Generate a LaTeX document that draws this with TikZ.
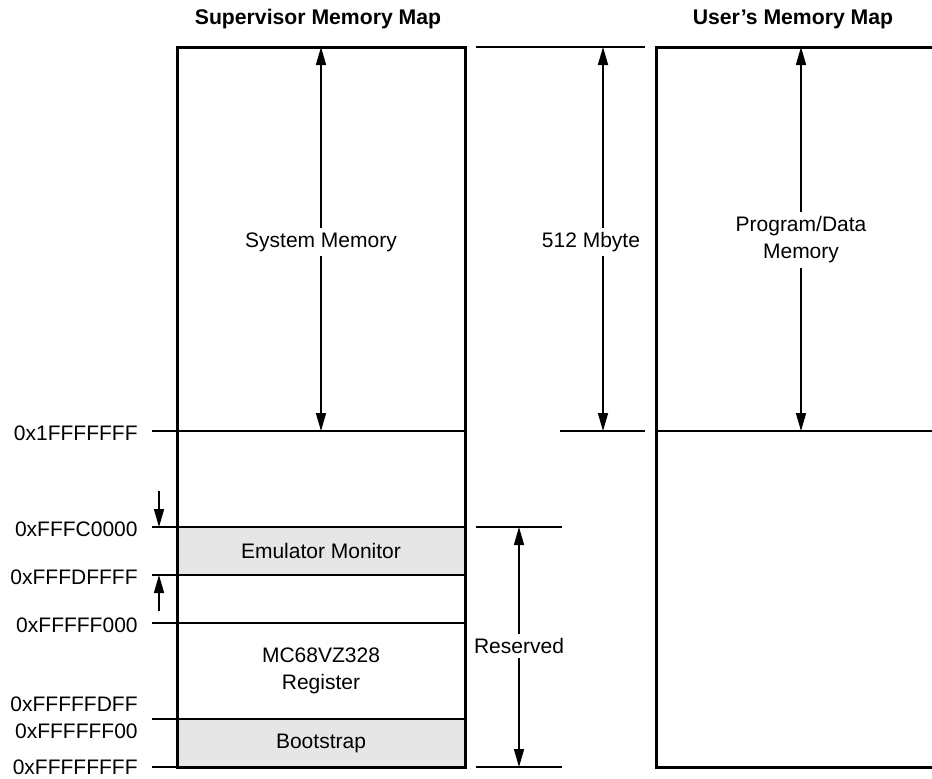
\documentclass[tikz,border=0pt]{standalone}
\usepackage{fontspec}
\setmainfont{Liberation Sans}
\usetikzlibrary{arrows.meta}
\definecolor{regiongray}{HTML}{E6E6E6}
\begin{document}
\begin{tikzpicture}[x=0.5pt,y=-0.5pt,
  boxline/.style={line width=1.5pt},
  thinline/.style={line width=1pt},
  arr/.style={line width=0.8pt,-{Triangle[length=9pt,width=5pt]}},
  lbl/.style={font=\fontsize{10.5pt}{12.5pt}\selectfont, inner sep=2pt, align=center},
  addr/.style={lbl, anchor=east, inner sep=0pt},
  maptitle/.style={font=\fontsize{10.6pt}{12pt}\selectfont\bfseries}]
\useasboundingbox (0,0) rectangle (932,778);

% titles
\node[maptitle] (t1) at (318,19) {Supervisor Memory Map};
\node[maptitle] (t2) at (793,19) {User’s Memory Map};

% gray regions
\fill[regiongray] (177,527) rectangle (465,575);
\fill[regiongray] (177,719) rectangle (465,767);

% horizontal divisions (supervisor)
\draw[thinline] (152,431) -- (465,431);
\draw[thinline] (152,527) -- (465,527);
\draw[thinline] (152,575) -- (465,575);
\draw[thinline] (152,623) -- (465,623);
\draw[thinline] (152,719) -- (465,719);
\draw[thinline] (152,767) -- (177,767);

% supervisor box
\draw[boxline] (177,47) rectangle (465,767);

% user's box (cropped at right)
\draw[boxline] (932,47) -- (656,47) -- (656,767) -- (932,767);
\draw[thinline] (656,431) -- (932,431);

% 512 Mbyte dimension lines
\draw[thinline] (476,47) -- (645,47);
\draw[thinline] (560,431) -- (645,431);
% Reserved dimension lines
\draw[thinline] (476,527) -- (562,527);
\draw[thinline] (476,767) -- (562,767);

% address labels
\node[addr] (a1) at (138,433) {0x1FFFFFFF};
\node[addr] (a2) at (138,529) {0xFFFC0000};
\node[addr] (a3) at (138,577) {0xFFFDFFFF};
\node[addr] (a4) at (138,625) {0xFFFFF000};
\node[addr] (a5) at (138,704) {0xFFFFFDFF};
\node[addr] (a6) at (138,731) {0xFFFFFF00};
\node[addr] (a7) at (138,767) {0xFFFFFFFF};

% small arrows
\coordinate (s1a) at (159,491);
\coordinate (s1b) at (159,527);
\coordinate (s2a) at (159,611);
\coordinate (s2b) at (159,575);
\draw[arr] (s1a) -- (s1b);
\draw[arr] (s2a) -- (s2b);

% region labels
\node[lbl] (sys) at (321,242) {System Memory};
\node[lbl] (emu) at (321,551) {Emulator Monitor};
\node[lbl] (reg) at (321,671) {MC68VZ328\\[1pt]Register};
\node[lbl] (boot) at (321,743) {Bootstrap};
\node[lbl] (mb) at (591,242) {512 Mbyte};
\node[lbl] (res) at (519,646) {Reserved};
\node[lbl] (prog) at (801,240) {Program/Data\\[1pt]Memory};

% arrows
\coordinate (sysT) at (321,47);
\coordinate (sysB) at (321,431);
\draw[arr] (sys) -- (sysT);
\draw[arr] (sys) -- (sysB);

\coordinate (mbT) at (603,47);
\coordinate (mbB) at (603,431);
\draw[arr] (mb.north -| mbT) -- (mbT);
\draw[arr] (mb.south -| mbB) -- (mbB);

\coordinate (resT) at (519,527);
\coordinate (resB) at (519,767);
\draw[arr] (res) -- (resT);
\draw[arr] (res) -- (resB);

\coordinate (progT) at (801,47);
\coordinate (progB) at (801,431);
\draw[arr] (prog) -- (progT);
\draw[arr] (prog) -- (progB);
\end{tikzpicture}
\end{document}
